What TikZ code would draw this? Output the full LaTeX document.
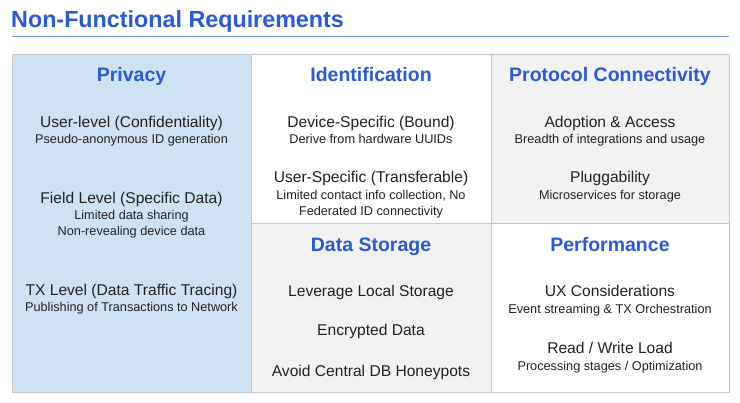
\documentclass[tikz,border=0pt]{standalone}
\usepackage{fontspec}
\setmainfont{Liberation Sans}
\definecolor{hblue}{HTML}{2A5AD8}
\definecolor{lineblue}{HTML}{7A98EE}
\definecolor{cellblue}{HTML}{CFE2F3}
\definecolor{cellgray}{HTML}{F2F2F2}
\definecolor{gridgray}{HTML}{C8C8C8}
\definecolor{txt}{HTML}{222222}
\tikzset{
  cell/.style={draw=gridgray, line width=1pt},
  txtbox/.style={anchor=center, inner sep=0pt, text depth=0pt},
  head/.style={txtbox, text height=14pt, text=hblue, font=\fontsize{19.5}{22}\selectfont\bfseries},
  item/.style={txtbox, text height=11.2pt, text=txt, font=\fontsize{15.6}{18}\selectfont},
  sub/.style={txtbox, text height=9.1pt, text=txt, font=\fontsize{12.7}{15}\selectfont},
}
\begin{document}
\begin{tikzpicture}[x=1pt,y=-1pt]
\useasboundingbox (0,0) rectangle (740,403);
% title
\node[txtbox, text height=16.5pt, anchor=west, text=hblue, font=\fontsize{23.3}{26}\selectfont\bfseries] (title) at (11,19) {Non-Functional Requirements};
\draw[lineblue, line width=1.2pt] (12,36.5) -- (729,36.5);
% cells
\path[cell, fill=cellblue] (12,55) rectangle (251,393);
\path[cell, fill=white] (251,55) rectangle (491,224);
\path[cell, fill=cellgray] (491,55) rectangle (729,224);
\path[cell, fill=cellgray] (251,224) rectangle (491,393);
\path[cell, fill=white] (491,224) rectangle (729,393);
% Privacy
\node[head] (h1) at (131.5,75) {Privacy};
\node[item] (p1) at (131.5,122) {User-level (Confidentiality)};
\node[sub] (p1s) at (131.5,139) {Pseudo-anonymous ID generation};
\node[item] (p2) at (131.5,198) {Field Level (Specific Data)};
\node[sub] (p2s) at (131.5,215) {Limited data sharing};
\node[sub] (p2t) at (131.5,231) {Non-revealing device data};
\node[item] (p3) at (131.5,290) {TX Level (Data Traffic Tracing)};
\node[sub] (p3s) at (131.5,307) {Publishing of Transactions to Network};
% Identification
\node[head] (h2) at (371,75) {Identification};
\node[item] (i1) at (371,122) {Device-Specific (Bound)};
\node[sub] (i1s) at (371,139) {Derive from hardware UUIDs};
\node[item] (i2) at (371,177) {User-Specific (Transferable)};
\node[sub] (i2s) at (371,195) {Limited contact info collection, No};
\node[sub] (i2t) at (371,211) {Federated ID connectivity};
% Protocol
\node[head] (h3) at (610,75) {Protocol Connectivity};
\node[item] (c1) at (610,122) {Adoption \& Access};
\node[sub] (c1s) at (610,139) {Breadth of integrations and usage};
\node[item] (c2) at (610,177) {Pluggability};
\node[sub] (c2s) at (610,195) {Microservices for storage};
% Data storage
\node[head] (h4) at (371,245) {Data Storage};
\node[item] (d1) at (371,291) {Leverage Local Storage};
\node[item] (d2) at (371,330) {Encrypted Data};
\node[item] (d3) at (371,371) {Avoid Central DB Honeypots};
% Performance
\node[head] (h5) at (610,245) {Performance};
\node[item] (f1) at (610,291) {UX Considerations};
\node[sub] (f1s) at (610,309) {Event streaming \& TX Orchestration};
\node[item] (f2) at (610,348) {Read / Write Load};
\node[sub] (f2s) at (610,366) {Processing stages / Optimization};
\end{tikzpicture}
\end{document}
